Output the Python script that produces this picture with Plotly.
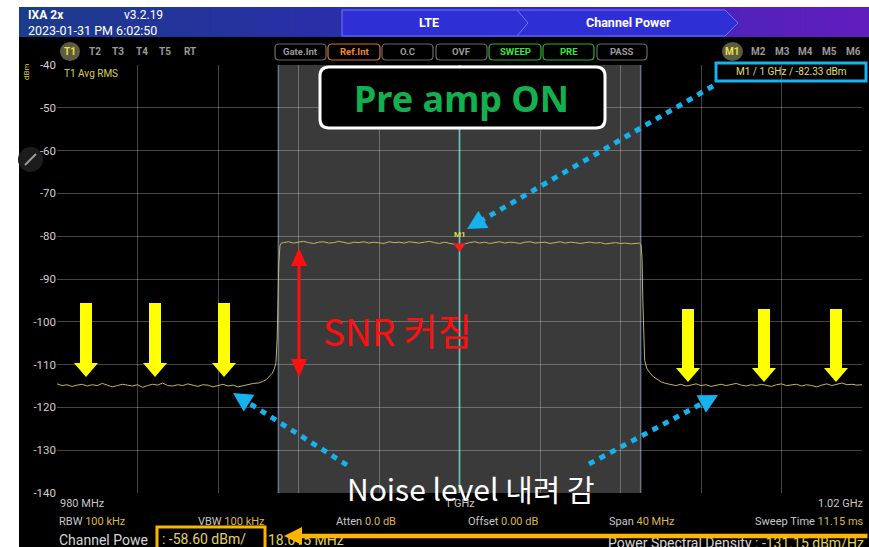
import math
import plotly.graph_objects as go

# ---------------- data ----------------
span_start_mhz = 980.0
span_stop_mhz = 1020.0
x_grid_step_mhz = 4
y_top_dbm = -40
y_bottom_dbm = -140
y_ticks = [-40, -50, -60, -70, -80, -90, -100, -110, -120, -130, -140]

channel_center_mhz = 1000.0
channel_bw_mhz = 18.0
marker_freq_mhz = 1000.0
marker_level_dbm = -82.33

freq_low = [980.00, 980.25, 980.50, 980.75, 981.00, 981.25, 981.50, 981.75, 982.00, 982.25,
            982.50, 982.75, 983.00, 983.25, 983.50, 983.75, 984.00, 984.25, 984.50, 984.75,
            985.00, 985.25, 985.50, 985.75, 986.00, 986.25, 986.50, 986.75, 987.00, 987.25,
            987.50, 987.75, 988.00, 988.25, 988.50, 988.75, 989.00, 989.25, 989.50, 989.75]
level_low = [-114.5, -114.9, -114.7, -115.1, -114.8, -114.6, -115.0, -114.7, -114.9, -114.4,
             -114.8, -115.2, -114.9, -114.6, -114.8, -115.0, -114.7, -115.3, -114.9, -114.6,
             -114.8, -114.3, -114.9, -115.0, -114.7, -114.9, -114.5, -114.8, -115.1, -114.7,
             -114.8, -115.2, -114.9, -114.6, -115.0, -114.8, -115.2, -114.9, -114.6, -114.4]

freq_rise = [990.00, 990.20, 990.40, 990.55, 990.70, 990.80, 990.88, 990.94, 990.98, 991.02,
             991.08, 991.15]
level_rise = [-114.3, -114.0, -113.5, -112.8, -112.0, -111.0, -109.5, -104.0, -95.0, -86.5,
              -82.2, -81.6]

freq_band = [991.25, 991.50, 991.75, 992.00, 992.25, 992.50, 992.75, 993.00, 993.25, 993.50,
             993.75, 994.00, 994.25, 994.50, 994.75, 995.00, 995.25, 995.50, 995.75, 996.00,
             996.25, 996.50, 996.75, 997.00, 997.25, 997.50, 997.75, 998.00, 998.25, 998.50,
             998.75, 999.00, 999.25, 999.50, 999.75, 1000.00, 1000.25, 1000.50, 1000.75, 1001.00,
             1001.25, 1001.50, 1001.75, 1002.00, 1002.25, 1002.50, 1002.75, 1003.00, 1003.25, 1003.50,
             1003.75, 1004.00, 1004.25, 1004.50, 1004.75, 1005.00, 1005.25, 1005.50, 1005.75, 1006.00,
             1006.25, 1006.50, 1006.75, 1007.00, 1007.25, 1007.50, 1007.75, 1008.00, 1008.25, 1008.50,
             1008.75]
level_band = [-81.5, -81.3, -81.6, -81.4, -81.2, -81.5, -81.7, -81.4, -81.3, -81.6,
              -81.5, -81.2, -81.5, -81.7, -81.4, -81.5, -81.3, -81.6, -81.4, -81.5,
              -81.7, -81.3, -81.5, -81.4, -81.6, -81.3, -81.5, -81.6, -81.4, -81.2,
              -81.5, -81.7, -81.4, -81.6, -81.9, -82.3, -81.8, -81.5, -81.3, -81.6,
              -81.4, -81.7, -81.5, -81.3, -81.6, -81.4, -81.5, -81.7, -81.4, -81.3,
              -81.6, -81.5, -81.4, -81.7, -81.5, -81.3, -81.6, -81.4, -81.5, -81.7,
              -81.5, -81.4, -81.6, -81.5, -81.8, -81.6, -81.5, -81.7, -81.6, -81.8,
              -81.7]

freq_fall = [1008.95, 1009.02, 1009.07, 1009.11, 1009.15, 1009.20, 1009.30, 1009.45, 1009.65,
             1009.85, 1010.05]
level_fall = [-81.6, -82.0, -85.0, -95.0, -104.0, -109.0, -110.8, -111.9, -112.9,
              -113.6, -114.1]

freq_high = [1010.25, 1010.50, 1010.75, 1011.00, 1011.25, 1011.50, 1011.75, 1012.00, 1012.25, 1012.50,
             1012.75, 1013.00, 1013.25, 1013.50, 1013.75, 1014.00, 1014.25, 1014.50, 1014.75, 1015.00,
             1015.25, 1015.50, 1015.75, 1016.00, 1016.25, 1016.50, 1016.75, 1017.00, 1017.25, 1017.50,
             1017.75, 1018.00, 1018.25, 1018.50, 1018.75, 1019.00, 1019.25, 1019.50, 1019.75, 1020.00]
level_high = [-114.4, -114.7, -114.9, -114.6, -115.0, -114.8, -114.5, -114.9, -114.7, -115.1,
              -114.8, -114.6, -114.9, -114.7, -114.4, -114.8, -115.0, -114.7, -114.9, -114.6,
              -114.8, -115.1, -114.7, -114.5, -114.9, -114.8, -114.6, -115.0, -114.7, -114.9,
              -115.2, -114.8, -114.5, -114.9, -114.6, -114.3, -114.7, -114.6, -114.8, -114.7]

freq_mhz = freq_low + freq_rise + freq_band + freq_fall + freq_high
level_dbm = level_low + level_rise + level_band + level_fall + level_high

# ---------------- layout geometry (pixels) ----------------
W, H = 869, 547
L, R, T, B = 57, 862, 65, 493

def px(x):
    return (x - L) / (R - L)

def py(y):
    return (B - y) / (B - T)

def pt(x, y):
    return f"{px(x):.5f},{py(y):.5f}"

def poly(points):
    return "M " + " L ".join(pt(x, y) for x, y in points) + " Z"

def rrect(x0, y0, x1, y1, r):
    return (f"M {pt(x0 + r, y0)} L {pt(x1 - r, y0)} Q {pt(x1, y0)} {pt(x1, y0 + r)} "
            f"L {pt(x1, y1 - r)} Q {pt(x1, y1)} {pt(x1 - r, y1)} L {pt(x0 + r, y1)} "
            f"Q {pt(x0, y1)} {pt(x0, y1 - r)} L {pt(x0, y0 + r)} Q {pt(x0, y0)} {pt(x0 + r, y0)} Z")

fig = go.Figure()
shapes = []
UI = "Roboto"
KR = "Noto Sans CJK KR"

def add_path(path, fill=None, color=None, width=0, layer="above", dash=None):
    line = dict(width=width, color=color or "rgba(0,0,0,0)")
    if dash:
        line["dash"] = dash
    shapes.append(dict(type="path", xref="paper", yref="paper", path=path,
                       fillcolor=fill or "rgba(0,0,0,0)", line=line, layer=layer))

def add_rect(x0, y0, x1, y1, fill=None, color=None, width=0, layer="above"):
    shapes.append(dict(type="rect", xref="paper", yref="paper", x0=px(x0), x1=px(x1),
                       y0=py(y1), y1=py(y0), fillcolor=fill or "rgba(0,0,0,0)",
                       line=dict(width=width, color=color or "rgba(0,0,0,0)"), layer=layer))

def add_line(x0, y0, x1, y1, color, width, dash=None, layer="above"):
    line = dict(width=width, color=color)
    if dash:
        line["dash"] = dash
    shapes.append(dict(type="line", xref="paper", yref="paper", x0=px(x0), y0=py(y0),
                       x1=px(x1), y1=py(y1), line=line, layer=layer))

def txt(x, y, s, size, color, xanchor="left", yanchor="middle", family=UI, **kw):
    fig.add_annotation(x=px(x), y=py(y), xref="paper", yref="paper", text=s, showarrow=False,
                       xanchor=xanchor, yanchor=yanchor,
                       font=dict(size=size, color=color, family=family), **kw)

# ---------------- screen background ----------------
add_rect(19, 7, 869, 547, fill="#000000", layer="below")

# header gradient
stops = [(19, (28, 60, 138)), (450, (48, 42, 182)), (869, (98, 30, 192))]
nstrip = 40
for i in range(nstrip):
    xa = 19 + (869 - 19) * i / nstrip
    xb = 19 + (869 - 19) * (i + 1) / nstrip + 0.6
    xm = (xa + xb) / 2
    for (s0, c0), (s1, c1) in zip(stops[:-1], stops[1:]):
        if s0 <= xm <= s1:
            t = (xm - s0) / (s1 - s0)
            c = tuple(int(c0[k] + (c1[k] - c0[k]) * t) for k in range(3))
    add_rect(xa, 7, xb, 37, fill=f"rgb{c}", layer="below")

# chevron boxes
add_path(poly([(342, 10), (725, 10), (738, 23), (725, 36), (342, 36)]),
         fill="#2f2fd6", color="#6f74ff", width=1)
shapes.append(dict(type="path", xref="paper", yref="paper",
                   path=f"M {pt(517, 10)} L {pt(528, 23)} L {pt(517, 36)}",
                   line=dict(color="#6f74ff", width=1), layer="above"))
txt(429, 23, "<b>LTE</b>", 12.5, "#ffffff", xanchor="center")
txt(628, 23, "<b>Channel Power</b>", 12.5, "#ffffff", xanchor="center")
txt(26, 15, "<b>IXA 2x</b>", 12, "#ffffff")
txt(122, 15, "v3.2.19", 12, "#ffffff")
txt(26, 30, "2023-01-31 PM 6:02:50", 12.5, "#ffffff")

# trace selector row
shapes.append(dict(type="circle", xref="paper", yref="paper", x0=px(60), x1=px(80),
                   y0=py(61), y1=py(42), fillcolor="#5e5c40", line=dict(width=0)))
txt(70, 51, "<b>T1</b>", 10, "#e8e24a", xanchor="center")
for label, xc in [("T2", 95), ("T3", 118), ("T4", 142), ("T5", 165), ("RT", 190)]:
    txt(xc, 51, f"<b>{label}</b>", 10, "#9a9a9a", xanchor="center")

buttons = [("Gate.Int", 275, 326, "#6a6a6a", "#9a9a9a"),
           ("Ref.Int", 328, 380, "#d9742c", "#f08a34"),
           ("O.C", 382, 433, "#6a6a6a", "#9a9a9a"),
           ("OVF", 436, 487, "#6a6a6a", "#9a9a9a"),
           ("SWEEP", 489, 541, "#2fae2f", "#3fe03f"),
           ("PRE", 543, 594, "#2fae2f", "#3fe03f"),
           ("PASS", 597, 647, "#6a6a6a", "#9a9a9a")]
for label, x0, x1, bc, tc in buttons:
    add_path(rrect(x0, 44, x1, 60, 4), fill="#000000", color=bc, width=1.2)
    txt((x0 + x1) / 2, 52, f"<b>{label}</b>", 9.5, tc, xanchor="center")

shapes.append(dict(type="circle", xref="paper", yref="paper", x0=px(722), x1=px(743),
                   y0=py(61), y1=py(42), fillcolor="#5e5c40", line=dict(width=0)))
txt(732, 51, "<b>M1</b>", 10, "#e8e24a", xanchor="center")
for label, xc in [("M2", 758), ("M3", 782), ("M4", 805), ("M5", 829), ("M6", 853)]:
    txt(xc, 51, f"<b>{label}</b>", 10, "#9a9a9a", xanchor="center")

# side labels
txt(27, 72, "dBm", 8, "#d8cf50", xanchor="center", textangle=-90)
shapes.append(dict(type="circle", xref="paper", yref="paper", x0=px(18), x1=px(43),
                   y0=py(172), y1=py(147), fillcolor="#1c1c1c", line=dict(width=0), layer="below"))
add_line(25, 165, 36, 154, "#9a9a9a", 2, layer="below")

# channel shading + edges (data referenced)
ch_lo = channel_center_mhz - channel_bw_mhz / 2
ch_hi = channel_center_mhz + channel_bw_mhz / 2
shapes.append(dict(type="rect", xref="x", yref="paper", x0=ch_lo, x1=ch_hi, y0=0, y1=1,
                   fillcolor="#3a3a3a", line=dict(width=0), layer="below"))
for fx in (ch_lo, ch_hi):
    shapes.append(dict(type="line", xref="x", yref="paper", x0=fx, x1=fx, y0=0, y1=1,
                       line=dict(color="#66758c", width=1.5), layer="between"))
shapes.append(dict(type="line", xref="x", yref="paper", x0=marker_freq_mhz, x1=marker_freq_mhz,
                   y0=0, y1=1, line=dict(color="#4c9f9c", width=2), layer="between"))

# ---------------- traces ----------------
fig.add_trace(go.Scatter(x=freq_mhz, y=level_dbm, mode="lines",
                         line=dict(color="#bdb862", width=1), hoverinfo="skip", showlegend=False))
fig.add_trace(go.Scatter(x=[marker_freq_mhz], y=[marker_level_dbm], mode="markers",
                         marker=dict(symbol="triangle-down", size=11, color="#ff1a1a"),
                         hoverinfo="skip", showlegend=False))
fig.add_annotation(x=marker_freq_mhz, y=marker_level_dbm, xref="x", yref="y", text="<b>M1</b>",
                   showarrow=False, yshift=12, font=dict(size=8, color="#e0d84a", family=UI))

txt(62, 73, "T1 Avg RMS", 10, "#d8d050")

# marker readout box
add_rect(716, 63, 866, 81, color="#14b4ee", width=3)
txt(791, 72, "M1 / 1 GHz / -82.33 dBm", 10, "#e6df6a", xanchor="center")

# Pre amp ON box
add_path(rrect(320, 67, 605, 128, 9), fill="#000000", color="#ffffff", width=3)
txt(462, 98, "<b>Pre amp ON</b>", 36, "#12b04e", xanchor="center", family="Noto Sans")

# red double arrow (SNR)
add_line(299, 262, 299, 363, "#ff1010", 3)
add_path(poly([(299, 248), (291, 266), (307, 266)]), fill="#ff1010")
add_path(poly([(299, 377), (291, 359), (307, 359)]), fill="#ff1010")
txt(397, 330, "SNR 커짐", 37, "#ff1010", xanchor="center", family=KR)

# yellow arrows
def yellow_arrow(xc, ytop, yhead, ytip):
    add_path(poly([(xc - 6, ytop), (xc + 6, ytop), (xc + 6, yhead), (xc + 12, yhead),
                   (xc, ytip), (xc - 12, yhead), (xc - 6, yhead)]), fill="#ffff00")

for xc in (86, 155, 224):
    yellow_arrow(xc, 303, 363, 377)
for xc in (688, 764, 836):
    yellow_arrow(xc, 309, 368, 382)

# cyan dotted arrows
CY = "#16b2ee"

def cyan_arrow(tail, tip, length=19, half_w=10):
    dx, dy = tip[0] - tail[0], tip[1] - tail[1]
    n = math.hypot(dx, dy)
    ux, uy = dx / n, dy / n
    bx, by = tip[0] - ux * length, tip[1] - uy * length
    add_line(tail[0], tail[1], bx + ux * 2, by + uy * 2, CY, 5, dash="6px,6px")
    add_path(poly([tip, (bx - uy * half_w, by + ux * half_w), (bx + uy * half_w, by - ux * half_w)]),
             fill=CY)

cyan_arrow((713, 86), (467, 229))
cyan_arrow((347, 465), (233, 393))
cyan_arrow((589, 464), (718, 395))

# bottom info rows
GR = "#c8c8c8"
YL = "#d8b84a"
txt(58, 503, "980 MHz", 11, GR)
txt(460, 503, "1 GHz", 11, GR, xanchor="center")
txt(866, 503, "1.02 GHz", 11, GR, xanchor="right")
txt(57, 521, f"RBW <span style='color:{YL}'>100 kHz</span>", 11, GR)
txt(196, 521, f"VBW <span style='color:{YL}'>100 kHz</span>", 11, GR)
txt(334, 521, f"Atten <span style='color:{YL}'>0.0 dB</span>", 11, GR)
txt(466, 521, f"Offset <span style='color:{YL}'>0.00 dB</span>", 11, GR)
txt(607, 521, f"Span <span style='color:{YL}'>40 MHz</span>", 11, GR)
txt(866, 521, f"Sweep Time <span style='color:{YL}'>11.15 ms</span>", 11, GR, xanchor="right")

txt(57, 540, "Channel Powe", 14, "#d6d6d6")
txt(160, 539, ": -58.60 dBm/", 14, "#e2d460")
txt(266, 540, "18.015 MHz", 14, "#e2d460")
txt(866, 543, "Power Spectral Density : <span style='color:#e2d460'>-131.15 dBm/Hz</span>",
    14, "#d6d6d6", xanchor="right")

# orange box + arrow (arrow as annotation so it covers the texts beneath it)
add_rect(157, 527, 265, 551, color="#ffb400", width=3)
fig.add_annotation(x=px(284), y=py(536), xref="paper", yref="paper", text="",
                   showarrow=True, ax=869 - 284, ay=0, axref="pixel", ayref="pixel",
                   arrowhead=2, arrowsize=0.8, arrowwidth=4.5, arrowcolor="#ffb400",
                   standoff=0, startstandoff=0)

# big annotation text
txt(471, 488, "Noise level 내려 감", 30, "#ffffff", xanchor="center", family=KR)

fig.update_layout(
    width=W, height=H,
    margin=dict(l=L, r=W - R, t=T, b=H - B, pad=0),
    paper_bgcolor="#ffffff",
    plot_bgcolor="rgba(0,0,0,0)",
    shapes=shapes,
    showlegend=False,
    xaxis=dict(range=[span_start_mhz, span_stop_mhz], tick0=span_start_mhz, dtick=x_grid_step_mhz,
               showgrid=True, gridcolor="rgba(255,255,255,0.27)", gridwidth=1,
               showticklabels=False, zeroline=False, showline=False, ticks=""),
    yaxis=dict(range=[y_bottom_dbm, y_top_dbm], tickvals=y_ticks,
               ticktext=[str(v) for v in y_ticks],
               showgrid=True, gridcolor="rgba(255,255,255,0.27)", gridwidth=1,
               zeroline=False, showline=False, ticks="",
               tickfont=dict(size=11.5, color="#cfcfcf", family=UI)),
)

fig.write_html("out.html", config={"displayModeBar": False},
               post_script="document.body.style.margin='0';document.body.style.overflow='hidden';")
